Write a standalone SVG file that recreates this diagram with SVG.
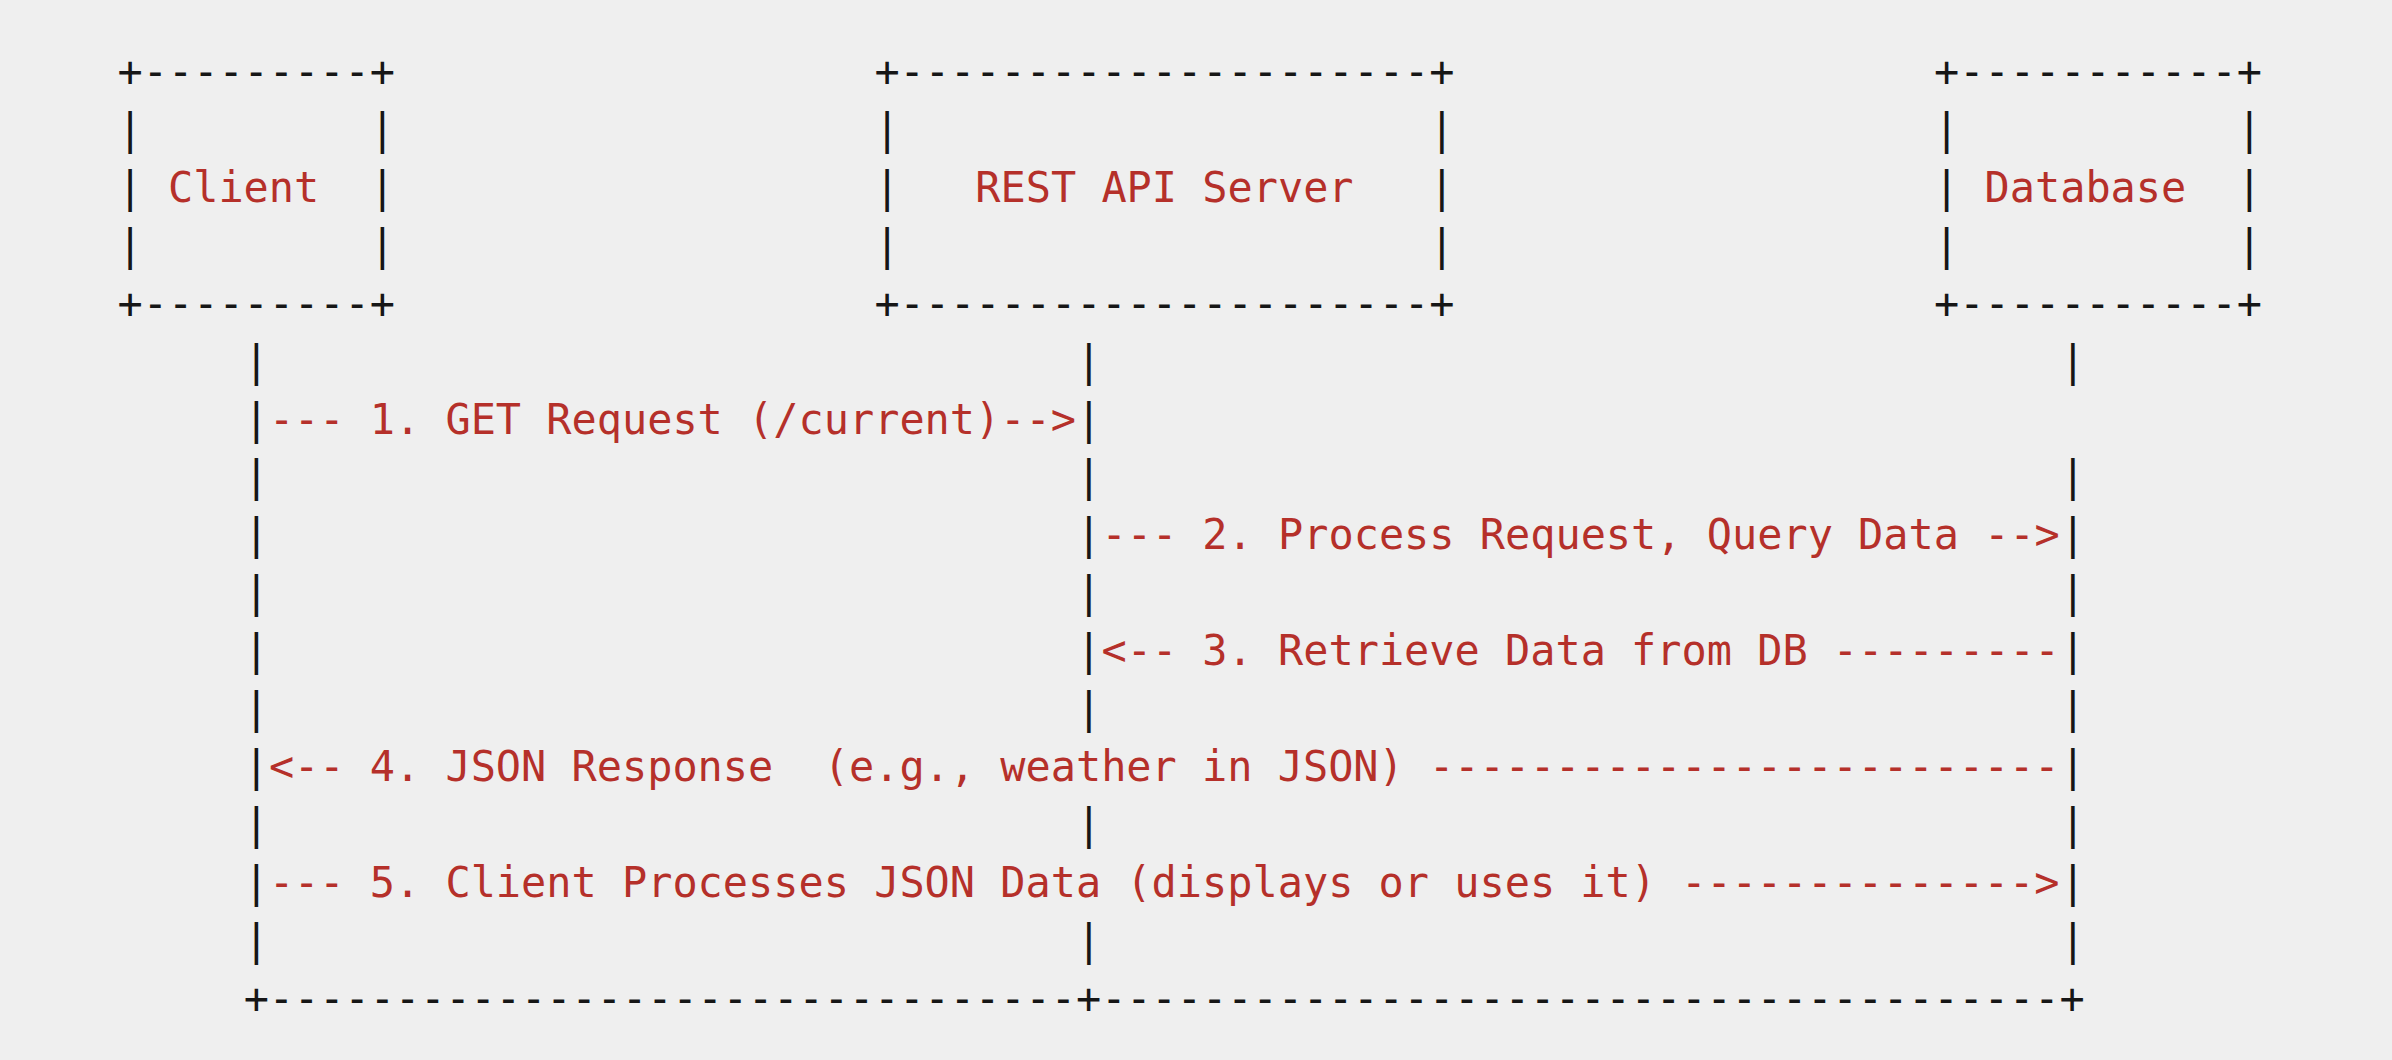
<svg xmlns="http://www.w3.org/2000/svg" width="2392" height="1060" viewBox="0 0 2392 1060">
<style>
text { font-family: "DejaVu Sans Mono", "Liberation Mono", monospace; font-size: 41.9px; fill: #161616; white-space: pre; }
.r { fill: #b5302a; }
</style>
<rect width="2392" height="1060" fill="#efefef"/>
<g id="client">
<text x="117.5" y="85.8" xml:space="preserve">+---------+</text>
<text x="117.5" y="143.75" xml:space="preserve">|         |</text>
<text x="117.5" y="201.7" xml:space="preserve">| <tspan class="r">Client</tspan>  |</text>
<text x="117.5" y="259.65" xml:space="preserve">|         |</text>
<text x="117.5" y="317.6" xml:space="preserve">+---------+</text>
</g>
<g id="server">
<text x="874.4" y="85.8" xml:space="preserve">+---------------------+</text>
<text x="874.4" y="143.75" xml:space="preserve">|                     |</text>
<text x="874.4" y="201.7" xml:space="preserve">|   <tspan class="r">REST API Server</tspan>   |</text>
<text x="874.4" y="259.65" xml:space="preserve">|                     |</text>
<text x="874.4" y="317.6" xml:space="preserve">+---------------------+</text>
</g>
<g id="database">
<text x="1934.06" y="85.8" xml:space="preserve">+-----------+</text>
<text x="1934.06" y="143.75" xml:space="preserve">|           |</text>
<text x="1934.06" y="201.7" xml:space="preserve">| <tspan class="r">Database</tspan>  |</text>
<text x="1934.06" y="259.65" xml:space="preserve">|           |</text>
<text x="1934.06" y="317.6" xml:space="preserve">+-----------+</text>
</g>
<g id="connectors">
<!-- row 5 -->
<text x="243.65" y="375.55">|</text><text x="1076.24" y="375.55">|</text><text x="2060.21" y="375.55">|</text>
<!-- row 6: message 1 -->
<text x="243.65" y="433.5">|</text>
<text class="r" x="268.88" y="433.5" xml:space="preserve">--- 1. GET Request (/current)--&gt;</text>
<text x="1076.24" y="433.5">|</text>
<!-- row 7 -->
<text x="243.65" y="491.45">|</text><text x="1076.24" y="491.45">|</text><text x="2060.21" y="491.45">|</text>
<!-- row 8: message 2 -->
<text x="243.65" y="549.4">|</text><text x="1076.24" y="549.4">|</text>
<text class="r" x="1101.47" y="549.4" xml:space="preserve">--- 2. Process Request, Query Data --&gt;</text>
<text x="2060.21" y="549.4">|</text>
<!-- row 9 -->
<text x="243.65" y="607.35">|</text><text x="1076.24" y="607.35">|</text><text x="2060.21" y="607.35">|</text>
<!-- row 10: message 3 -->
<text x="243.65" y="665.3">|</text><text x="1076.24" y="665.3">|</text>
<text class="r" x="1101.47" y="665.3" xml:space="preserve">&lt;-- 3. Retrieve Data from DB ---------</text>
<text x="2060.21" y="665.3">|</text>
<!-- row 11 -->
<text x="243.65" y="723.25">|</text><text x="1076.24" y="723.25">|</text><text x="2060.21" y="723.25">|</text>
<!-- row 12: message 4 -->
<text x="243.65" y="781.2">|</text>
<text class="r" x="268.88" y="781.2" xml:space="preserve">&lt;-- 4. JSON Response  (e.g., weather in JSON) -------------------------</text>
<text x="2060.21" y="781.2">|</text>
<!-- row 13 -->
<text x="243.65" y="839.15">|</text><text x="1076.24" y="839.15">|</text><text x="2060.21" y="839.15">|</text>
<!-- row 14: message 5 -->
<text x="243.65" y="897.1">|</text>
<text class="r" x="268.88" y="897.1" xml:space="preserve">--- 5. Client Processes JSON Data (displays or uses it) --------------&gt;</text>
<text x="2060.21" y="897.1">|</text>
<!-- row 15 -->
<text x="243.65" y="955.05">|</text><text x="1076.24" y="955.05">|</text><text x="2060.21" y="955.05">|</text>
<!-- row 16 -->
<text x="243.65" y="1013" xml:space="preserve">+--------------------------------+--------------------------------------+</text>
</g>
</svg>
